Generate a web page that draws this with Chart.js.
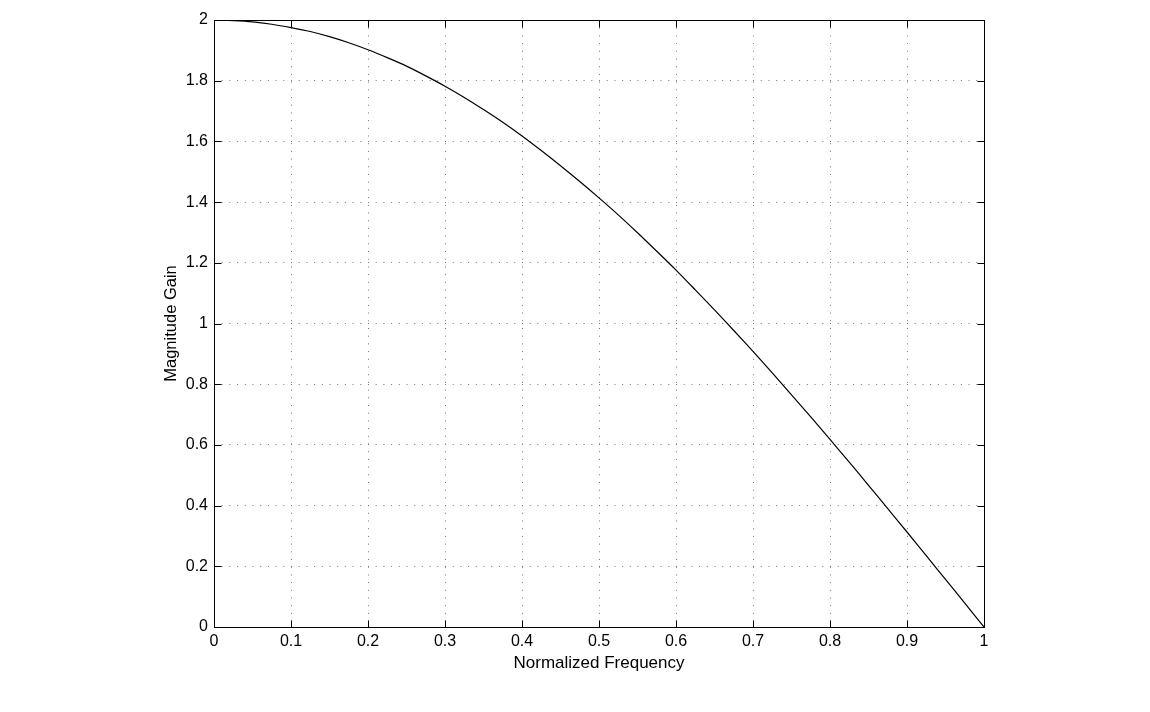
<!DOCTYPE html>
<html><head><meta charset="utf-8">
<script src="https://cdn.jsdelivr.net/npm/chart.js@4"></script>
<style>html,body{margin:0;padding:0;background:#fff}#wrap{width:1150px;height:712px}</style>
</head><body><div id="wrap"><canvas id="c" width="1150" height="712"></canvas></div>
<script>
const freq = [0,0.025,0.05,0.075,0.1,0.125,0.15,0.175,0.2,0.225,0.25,0.275,0.3,0.325,0.35,0.375,0.4,0.425,0.45,0.475,0.5,0.525,0.55,0.575,0.6,0.625,0.65,0.675,0.7,0.725,0.75,0.775,0.8,0.825,0.85,0.875,0.9,0.925,0.95,0.975,1.0];
const gain = [2.0,1.998,1.994,1.986,1.975,1.962,1.945,1.925,1.902,1.876,1.848,1.816,1.782,1.745,1.705,1.663,1.618,1.570,1.520,1.468,1.414,1.358,1.299,1.238,1.176,1.111,1.045,0.977,0.908,0.837,0.765,0.692,0.618,0.543,0.467,0.390,0.313,0.235,0.157,0.079,0.0];
const xTicks = [0,0.1,0.2,0.3,0.4,0.5,0.6,0.7,0.8,0.9,1];
const yTicks = [0,0.2,0.4,0.6,0.8,1,1.2,1.4,1.6,1.8,2];
const xLabel = 'Normalized Frequency';
const yLabel = 'Magnitude Gain';

const frame = {
  id:'frame',
  afterDraw(chart){
    const ctx=chart.ctx, a=chart.chartArea, xs=chart.scales.x, ys=chart.scales.y;
    ctx.save();
    ctx.strokeStyle='#000'; ctx.lineWidth=1;
    ctx.beginPath();
    const L=Math.round(a.left)+0.5, R=Math.round(a.right)+0.5, T=Math.round(a.top)+0.5, B=Math.round(a.bottom)+0.5;
    ctx.rect(L,T,R-L,B-T);
    const tl=7;
    xTicks.forEach(v=>{const p=Math.round(xs.getPixelForValue(v))+0.5; ctx.moveTo(p,B); ctx.lineTo(p,B-tl); ctx.moveTo(p,T); ctx.lineTo(p,T+tl);});
    yTicks.forEach(v=>{const p=Math.round(ys.getPixelForValue(v))+0.5; ctx.moveTo(L,p); ctx.lineTo(L+tl,p); ctx.moveTo(R,p); ctx.lineTo(R-tl,p);});
    ctx.stroke();
    ctx.restore();
  }
};

new Chart(document.getElementById('c'),{
  type:'line',
  data:{datasets:[{data:freq.map((f,i)=>({x:f,y:gain[i]})),borderColor:'#000',borderWidth:1.2,pointRadius:0,fill:false,tension:0.3}]},
  options:{
    responsive:false,animation:false,
    layout:{padding:{left:157,top:20,right:166,bottom:38}},
    plugins:{legend:{display:false},tooltip:{enabled:false}},
    scales:{
      x:{type:'linear',min:0,max:1,
        afterBuildTicks(s){s.ticks=xTicks.map(v=>({value:v}));},
        afterFit(s){s.height=47;},
        ticks:{color:'#000',font:{family:'Liberation Sans',size:16},padding:5,maxRotation:0,autoSkip:false,callback:v=>String(v)},
        grid:{color:'#777',lineWidth:1,drawTicks:false},
        border:{display:false,dash:[1,6.7]},
        title:{display:true,text:xLabel,color:'#000',font:{family:'Liberation Sans',size:17},padding:{top:2,bottom:0}}
      },
      y:{type:'linear',min:0,max:2,
        afterBuildTicks(s){s.ticks=yTicks.map(v=>({value:v}));},
        afterFit(s){s.width=57;},
        ticks:{color:'#000',font:{family:'Liberation Sans',size:16},padding:6,autoSkip:false,callback:v=>String(v)},
        grid:{color:'#777',lineWidth:1,drawTicks:false},
        border:{display:false,dash:[1,6.7]},
        title:{display:true,text:yLabel,color:'#000',font:{family:'Liberation Sans',size:16.5},padding:{top:5,bottom:0}}
      }
    }
  },
  plugins:[frame]
});
</script></body></html>
